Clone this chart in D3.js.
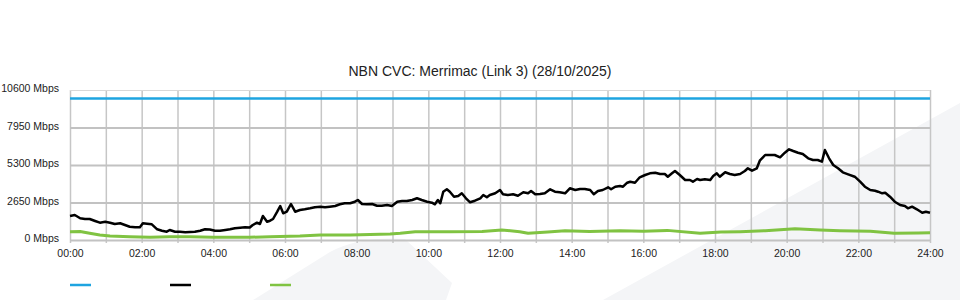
<!DOCTYPE html>
<html>
<head>
<meta charset="utf-8">
<script src="https://cdn.jsdelivr.net/npm/d3@7"></script>
<style>
	body { margin: 0; background: #fff; }
	svg { display: block; font-family: "Liberation Sans", Arial, sans-serif; }
</style>
</head>
<body>
<svg id="chart" width="960" height="300"></svg>
<script>
// minutes since midnight / Mbps
const capTimes = [0, 1440];
const capValues = [10000, 10000];

const useTimes = [0, 8, 17, 25, 33, 42, 50, 59, 67, 75, 84, 92, 100, 109, 117, 122, 129, 137, 146, 154,
	162, 167, 176, 184, 193, 201, 209, 218, 226, 234, 243, 251, 260, 268, 276, 285, 293, 301, 306, 313,
	318, 323, 330, 335, 340, 347, 352, 357, 363, 370, 377, 385, 393, 402, 410, 419, 427, 435, 444, 452,
	460, 469, 477, 482, 489, 497, 506, 514, 522, 531, 539, 548, 556, 564, 573, 581, 589, 598, 606, 611,
	616, 620, 625, 631, 636, 643, 650, 656, 663, 670, 678, 687, 692, 698, 703, 712, 720, 725, 733, 742,
	750, 759, 767, 772, 779, 787, 795, 804, 812, 820, 829, 837, 846, 854, 862, 871, 877, 884, 892, 901,
	906, 913, 921, 926, 933, 938, 946, 954, 963, 971, 980, 988, 996, 1001, 1008, 1013, 1021, 1030, 1038, 1043,
	1050, 1055, 1063, 1072, 1077, 1083, 1088, 1097, 1105, 1113, 1122, 1130, 1135, 1142, 1150, 1155, 1164, 1172, 1180, 1189,
	1197, 1204, 1211, 1219, 1227, 1236, 1244, 1252, 1259, 1264, 1271, 1278, 1286, 1294, 1303, 1314, 1323, 1331, 1340, 1348,
	1353, 1360, 1365, 1373, 1381, 1390, 1398, 1403, 1410, 1418, 1427, 1433, 1440];
const useValues = [1696, 1767, 1533, 1484, 1484, 1343, 1223, 1293, 1223, 1131, 1180, 1060, 940, 897, 897, 1180, 1152, 1109, 756, 657,
	587, 707, 587, 587, 544, 565, 587, 657, 756, 742, 657, 657, 707, 756, 827, 869, 897, 883, 1060, 1223,
	1131, 1696, 1293, 1364, 1484, 2000, 2403, 1887, 2000, 2544, 2000, 2120, 2169, 2240, 2311, 2353, 2311, 2353, 2403, 2523,
	2594, 2594, 2707, 2827, 2544, 2523, 2544, 2424, 2424, 2473, 2403, 2707, 2756, 2756, 2827, 2947, 2827, 2707, 2636, 2523,
	2827, 2594, 3413, 3583, 3413, 3060, 3109, 3300, 2947, 2664, 2777, 2947, 3180, 3017, 3180, 3300, 3533, 3230, 3180, 3230,
	3131, 3371, 3300, 3463, 3230, 3251, 3300, 3583, 3413, 3371, 3300, 3654, 3533, 3604, 3604, 3533, 3230, 3463, 3533, 3724,
	3583, 3767, 3816, 3767, 4049, 4120, 4049, 4431, 4593, 4713, 4756, 4664, 4664, 4473, 4713, 4876, 4593, 4240, 4240, 4120,
	4311, 4240, 4290, 4240, 4523, 4713, 4473, 4784, 4664, 4593, 4664, 4876, 5067, 4897, 5067, 5604, 6007, 6007, 6007, 5844,
	6169, 6410, 6289, 6169, 6077, 5773, 5653, 5653, 5533, 6360, 5773, 5300, 5067, 4784, 4643, 4473, 4120, 3767, 3533, 3484,
	3413, 3300, 3343, 3060, 2707, 2473, 2403, 2240, 2353, 2169, 1929, 2000, 1929];

const upTimes = [0, 17, 33, 50, 67, 100, 134, 167, 201, 239, 301, 335, 385, 419, 469, 536, 553, 578, 636, 690,
	723, 753, 767, 800, 829, 870, 921, 960, 1000, 1055, 1090, 1122, 1164, 1214, 1256, 1289, 1340, 1380, 1420, 1440];
const upValues = [587, 601, 473, 353, 283, 233, 191, 233, 233, 191, 191, 233, 283, 353, 353, 424, 473, 587, 587, 600,
	707, 587, 473, 560, 657, 600, 657, 620, 680, 473, 560, 587, 657, 800, 707, 657, 620, 473, 500, 516];

const yTicks = [0, 2650, 5300, 7950, 10600];
const hourTicks = d3.range(0, 1441, 60);
const xTickLabels = ['00:00', '02:00', '04:00', '06:00', '08:00', '10:00', '12:00',
	'14:00', '16:00', '18:00', '20:00', '22:00', '24:00'];

const svg = d3.select('#chart');

// background swooshes
svg.append('path')
	.attr('d', 'M253,300 L330,252 Q360,236 405,239 L452,283 L446,300 Z')
	.attr('fill', '#f4f5f7');
svg.append('path')
	.attr('d', 'M603,300 L960,103 L960,300 Z')
	.attr('fill', '#f4f5f7');

const x = d3.scaleLinear().domain([0, 1440]).range([70, 930]);
const y = d3.scaleLinear().domain([0, 10600]).range([240, 90]);

// vertical hour grid
svg.append('g')
	.attr('transform', 'translate(0,240)')
	.call(d3.axisBottom(x).tickValues(hourTicks).tickSizeOuter(0).tickFormat(''))
	.call(g => g.select('.domain').remove())
	.call(g => g.selectAll('line').attr('stroke', '#c6c6c6').attr('stroke-width', 1.5)
		.attr('y1', 3).attr('y2', -150));

// horizontal grid + labels
svg.append('g')
	.attr('transform', 'translate(70,0)')
	.call(d3.axisLeft(y).tickValues(yTicks).tickSize(-860).tickPadding(11)
		.tickFormat(d => d + ' Mbps'))
	.call(g => g.select('.domain').remove())
	.call(g => g.selectAll('line')
		.attr('stroke', d => d === 10600 ? '#d8d8d8' : '#c2c2c2')
		.attr('stroke-width', d => d === 10600 ? 1 : 2))
	.call(g => g.selectAll('text').attr('fill', '#222').attr('font-size', 10.5).attr('dy', '0.15em')
		.attr('font-family', '"Liberation Sans", Arial, sans-serif'));

// x labels
svg.append('g')
	.attr('transform', 'translate(0,240)')
	.call(d3.axisBottom(x).tickValues(d3.range(0, 1441, 120)).tickSize(0).tickPadding(10)
		.tickFormat((d, i) => xTickLabels[i]))
	.call(g => g.select('.domain').remove())
	.call(g => g.selectAll('text').attr('fill', '#222').attr('font-size', 10.5)
		.attr('font-family', '"Liberation Sans", Arial, sans-serif'));

svg.append('text')
	.attr('x', 480).attr('y', 76)
	.attr('text-anchor', 'middle')
	.attr('font-size', 14)
	.attr('fill', '#222')
	.text('NBN CVC: Merrimac (Link 3) (28/10/2025)');

const line = d3.line().x(d => x(d[0])).y(d => y(d[1]));

svg.append('path')
	.attr('d', line(d3.zip(capTimes, capValues)))
	.attr('stroke', '#1ea4e0').attr('stroke-width', 2.5).attr('fill', 'none');
svg.append('path')
	.attr('d', line(d3.zip(upTimes, upValues)))
	.attr('stroke', '#80c342').attr('stroke-width', 3).attr('fill', 'none')
	.attr('stroke-linejoin', 'round');
svg.append('path')
	.attr('d', line(d3.zip(useTimes, useValues)))
	.attr('stroke', '#000').attr('stroke-width', 2.5).attr('fill', 'none')
	.attr('stroke-linejoin', 'round');

// legend swatches
const legendColors = ['#1ea4e0', '#000', '#80c342'];
svg.append('g').selectAll('line')
	.data(legendColors)
	.join('line')
	.attr('x1', (d, i) => 70 + i * 100).attr('x2', (d, i) => 91 + i * 100)
	.attr('y1', 285).attr('y2', 285)
	.attr('stroke', d => d).attr('stroke-width', 2.5);
</script>
</body>
</html>
